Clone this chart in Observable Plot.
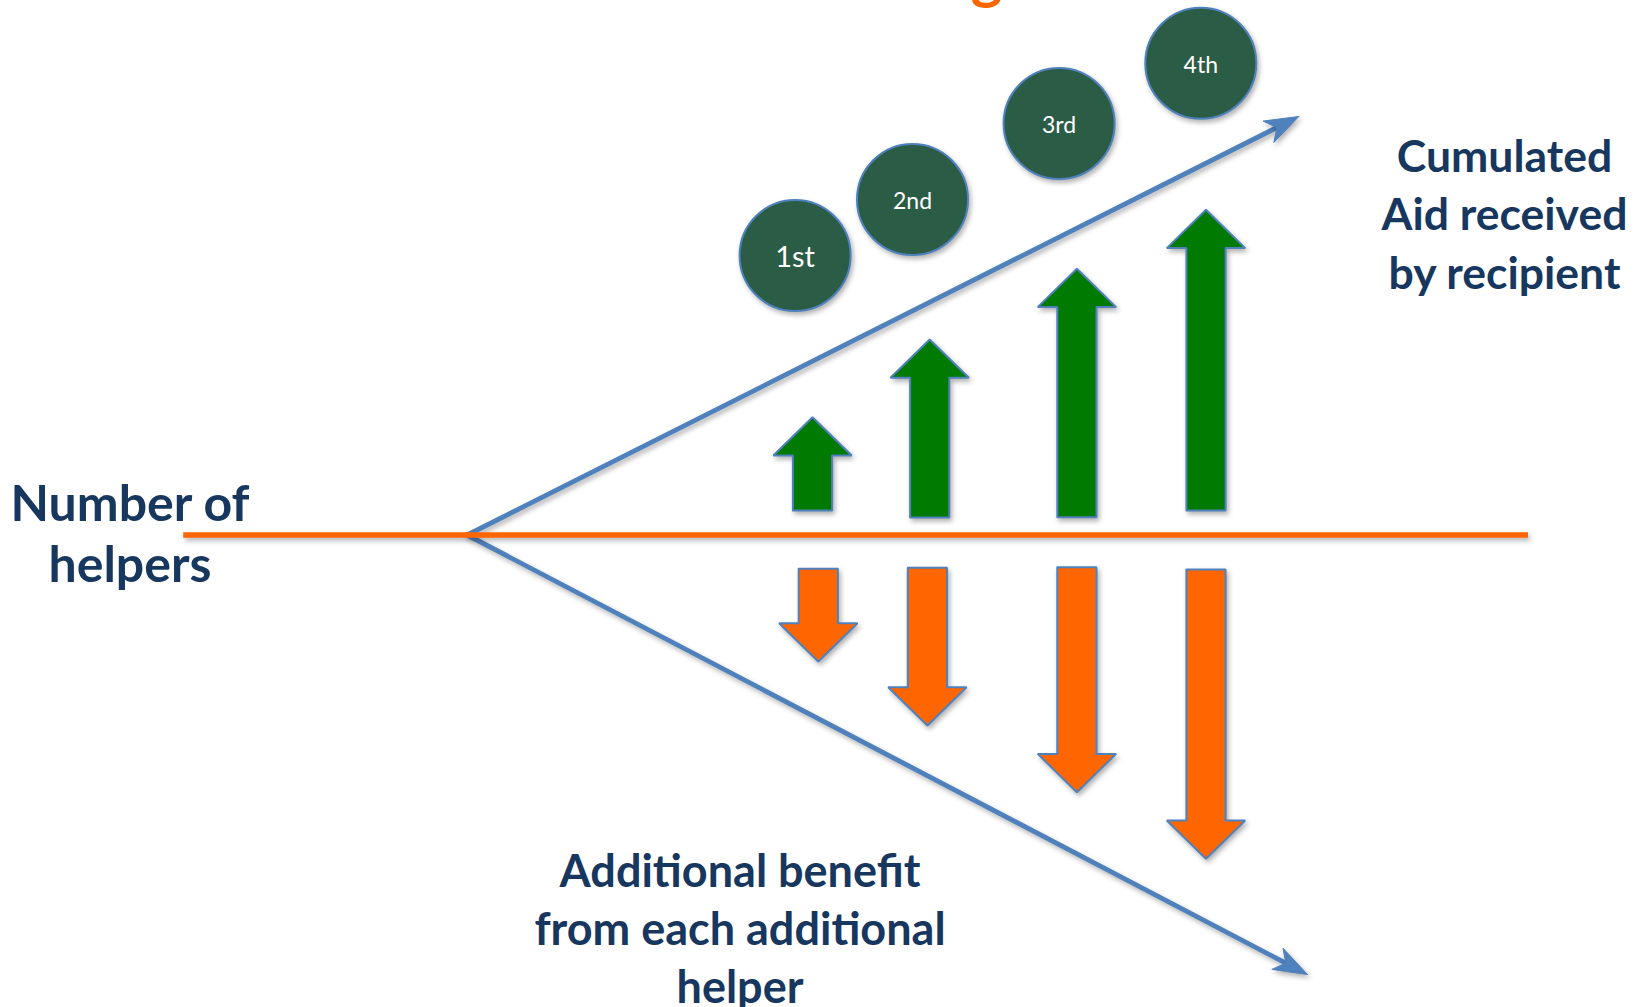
<!DOCTYPE html>
<html><head><meta charset="utf-8">
<script src="https://cdn.jsdelivr.net/npm/d3@7"></script>
<script src="https://cdn.jsdelivr.net/npm/@observablehq/plot@0.6"></script>
<style>html,body{margin:0;padding:0;background:#fff;overflow:hidden}</style>
</head><body><div id="chart"></div>
<script>
// ---- data (diagram units: x = position along the helpers axis, y = value above/below the axis) ----
const helpers = ["1st", "2nd", "3rd", "4th"];
const aidX = [812, 929.2, 1076.4, 1205.5];          // cumulated aid arrows (green)
const aidFrom = [24.5, 17.5, 17.8, 24.5];
const aidTo = [117.8, 195.5, 266.2, 325.2];
const benefitX = [817.8, 926.9, 1076.4, 1205.5];    // additional benefit arrows (orange)
const benefitFrom = [-33.8, -32.8, -32.2, -34.5];
const benefitTo = [-126.5, -190.5, -257.2, -323.8];
const helperCx = [794.6, 912, 1058.6, 1200.3];      // helper badges
const helperCy = [279.5, 335.5, 411.5, 471.7];
const axisFromTo = [182.7, 1527.5];                 // horizontal "number of helpers" axis at y = 0
const fanOrigin = [466.7, 0];
const cumulatedEnd = [1298.3, 418.5];
const benefitEnd = [1307, -439.5];
const leftLabel = ["Number of", "helpers"];
const rightLabel = ["Cumulated", "Aid received", "by recipient"];
const bottomLabel = ["Additional benefit", "from each additional", "helper"];
const titleFragment = "g";

// ---- shapes built from the data ----
const shaftHalf = 19.6, headHalf = 39.2, headLen = 38.3;
function blockArrow(id, cx, yFrom, yTo) {
  const s = Math.sign(yTo - yFrom);
  const hb = yTo - s * headLen;
  return [[cx - shaftHalf, yFrom], [cx - shaftHalf, hb], [cx - headHalf, hb], [cx, yTo],
          [cx + headHalf, hb], [cx + shaftHalf, hb], [cx + shaftHalf, yFrom], [cx - shaftHalf, yFrom]]
    .map(([x, y]) => ({id, x, y}));
}
function stealth(id, from, to, L = 34, W = 12, notch = 0.72) {
  const dx = to[0] - from[0], dy = to[1] - from[1], len = Math.hypot(dx, dy);
  const ux = dx / len, uy = dy / len, nx = -uy, ny = ux;
  const bx = to[0] - L * ux, by = to[1] - L * uy;
  const head = [[to[0], to[1]], [bx + W * nx, by + W * ny], [to[0] - notch * L * ux, to[1] - notch * L * uy], [bx - W * nx, by - W * ny], [to[0], to[1]]]
    .map(([x, y]) => ({id, x, y}));
  const line = [{id, x: from[0], y: from[1]}, {id, x: to[0] - notch * L * ux, y: to[1] - notch * L * uy}];
  return {head, line};
}
const upArrows = helpers.flatMap((h, i) => blockArrow("up" + i, aidX[i], aidFrom[i], aidTo[i]));
const downArrows = helpers.flatMap((h, i) => blockArrow("dn" + i, benefitX[i], benefitFrom[i], benefitTo[i]));
const fanUp = stealth("u", fanOrigin, cumulatedEnd);
const fanDn = stealth("d", fanOrigin, benefitEnd);
const badges = helpers.map((h, i) => ({label: h, x: helperCx[i], y: helperCy[i]}));
const axisLine = axisFromTo.map(x => ({x, y: 0}));

const navy = "#17375e", blue = "#4f81bd";
const font = "Lato, 'Open Sans', sans-serif";
const sh = "shadow";

const chart = Plot.plot({
  width: 1637, height: 1007, margin: 0,
  x: {domain: [0, 1637], range: [0, 1637], axis: null},
  y: {domain: [-472.5, 534.5], range: [1007, 0], axis: null},
  style: {background: "#fff", fontFamily: font},
  marks: [
    Plot.line([...fanUp.line, ...fanDn.line], {x: "x", y: "y", z: "id", stroke: blue, strokeWidth: 4.8, ariaDescription: sh}),
    Plot.line([...fanUp.head, ...fanDn.head], {x: "x", y: "y", z: "id", fill: blue, stroke: blue, strokeWidth: 1, ariaDescription: sh}),
    Plot.line(axisLine, {x: "x", y: "y", stroke: "#ff6600", strokeWidth: 5.5, strokeLinecap: "butt", ariaDescription: sh}),
    Plot.line(upArrows, {x: "x", y: "y", z: "id", fill: "#007a00", stroke: blue, strokeWidth: 2, strokeLinejoin: "miter", ariaDescription: sh}),
    Plot.line(downArrows, {x: "x", y: "y", z: "id", fill: "#ff6600", stroke: blue, strokeWidth: 2, strokeLinejoin: "miter", ariaDescription: sh}),
    Plot.dot(badges, {x: "x", y: "y", r: 55.5, fill: "#2b5c45", stroke: blue, strokeWidth: 2, ariaDescription: sh}),
    Plot.text(badges.slice(0, 1), {x: "x", y: "y", dy: 2, text: "label", fill: "#fff", fontSize: 29, fontFamily: font}),
    Plot.text(badges.slice(1), {x: "x", y: "y", dy: 2.5, text: "label", fill: "#fff", fontSize: 23, fontFamily: font}),
    Plot.text([leftLabel.join("\n")], {x: 129.5, y: 58, text: d => d, lineAnchor: "top", lineHeight: 1.23, fontSize: 50, fontWeight: "bold", fill: navy, fontFamily: font}),
    Plot.text([rightLabel.join("\n")], {x: 1504, y: 405, text: d => d, lineAnchor: "top", lineHeight: 1.32, fontSize: 44.5, fontWeight: "bold", fill: navy, fontFamily: font}),
    Plot.text([bottomLabel.join("\n")], {x: 739.5, y: -311, text: d => d, lineAnchor: "top", lineHeight: 1.29, fontSize: 45, fontWeight: "bold", fill: navy, fontFamily: font}),
    Plot.text([titleFragment], {x: 986, y: 557.7, text: d => d, fontSize: 60, fontWeight: "bold", fill: "#ff6600", fontFamily: font})
  ]
});

d3.select(chart).selectAll('g[aria-description="shadow"]')
  .style("filter", "drop-shadow(2px 3px 2.5px rgba(0,0,0,0.3))");
document.getElementById("chart").appendChild(chart);
</script>
</body></html>
